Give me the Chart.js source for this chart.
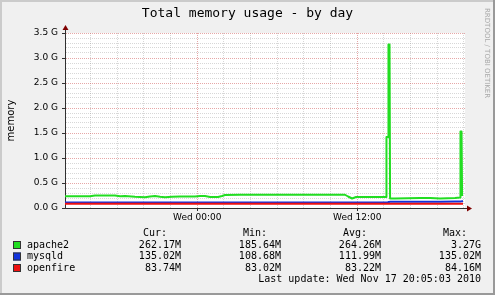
<!DOCTYPE html>
<html>
<head>
<meta charset="utf-8">
<title>Total memory usage - by day</title>
<script src="https://cdn.jsdelivr.net/npm/chart.js@4.4.1/dist/chart.umd.min.js"></script>
<style>
  html, body { margin: 0; padding: 0; background: #f0f0f0; }
  canvas { display: block; }
</style>
</head>
<body>
<canvas id="memChart" width="495" height="295"></canvas>
<script>
// hours since the start of the graph (Tue 14:05, 30h before last update)
const hours = [0, 1.88, 2.25, 3.75, 4.13, 4.5, 5.25, 6.0, 6.38, 6.75,
  7.13, 7.5, 8.03, 8.63, 9.75, 10.13, 10.5, 10.88, 11.48, 11.78,
  12.0, 13.13, 14.63, 17.63, 19.88, 21.0, 21.23, 21.53, 21.83, 22.88,
  24.08, 24.11, 24.23, 24.26, 24.34, 24.38, 24.75, 26.63, 27.38, 28.13,
  29.25, 29.63, 29.66, 29.74, 29.78, 29.85];

// memory in G
const apache2 = [0.235, 0.235, 0.25, 0.25, 0.235, 0.24, 0.225, 0.215, 0.23, 0.24,
  0.225, 0.215, 0.225, 0.23, 0.23, 0.24, 0.24, 0.22, 0.22, 0.24,
  0.26, 0.265, 0.265, 0.265, 0.265, 0.265, 0.23, 0.19, 0.22, 0.22,
  0.22, 1.42, 1.42, 3.27, 3.27, 0.19, 0.19, 0.2, 0.2, 0.19,
  0.2, 0.21, 1.53, 1.53, 0.26, 0.262];
const mysqld = [0.109, 0.109, 0.11, 0.11, 0.109, 0.109, 0.109, 0.109, 0.109, 0.11,
  0.11, 0.109, 0.109, 0.109, 0.109, 0.109, 0.11, 0.11, 0.109, 0.109,
  0.11, 0.11, 0.11, 0.109, 0.109, 0.109, 0.109, 0.109, 0.109, 0.109,
  0.109, 0.11, 0.112, 0.118, 0.122, 0.125, 0.125, 0.126, 0.126, 0.127,
  0.128, 0.13, 0.132, 0.133, 0.135, 0.135];
const openfire = [0.083, 0.083, 0.083, 0.083, 0.083, 0.083, 0.083, 0.083, 0.083, 0.083,
  0.083, 0.083, 0.083, 0.083, 0.083, 0.083, 0.083, 0.083, 0.083, 0.083,
  0.083, 0.083, 0.083, 0.083, 0.083, 0.083, 0.083, 0.083, 0.083, 0.083,
  0.083, 0.0835, 0.084, 0.084, 0.0838, 0.0835, 0.0835, 0.0835, 0.0835, 0.0835,
  0.0837, 0.0837, 0.0837, 0.0837, 0.0837, 0.0837];

const seriesNames = ['apache2', 'mysqld', 'openfire'];
const seriesColors = ['#22dd22', '#1133dd', '#ee1111'];
const statHeaders = ['Cur:', 'Min:', 'Avg:', 'Max:'];
const statValues = [
  ['262.17M', '185.64M', '264.26M', '3.27G'],
  ['135.02M', '108.68M', '111.99M', '135.02M'],
  ['83.74M', '83.02M', '83.22M', '84.16M']
];
const lastUpdate = 'Last update: Wed Nov 17 20:05:03 2010';

// vertical grid every 2h, lined up on midnight
const xTickHours = [1.917, 3.917, 5.917, 7.917, 9.917, 11.917, 13.917, 15.917,
  17.917, 19.917, 21.917, 23.917, 25.917, 27.917, 29.917];
const xTickLabels = ['', '', '', '', 'Wed 00:00', '', '', '',
  '', '', 'Wed 12:00', '', '', '', ''];
const yMax = 3.5;
const yMinorStep = 0.1;
const yMajorStep = 0.5;

const isMajorY = v => Math.abs(v / yMajorStep - Math.round(v / yMajorStep)) < 1e-6;

const minorGrid = 'rgba(140,140,140,0.35)';
const majorGrid = 'rgba(200,60,60,0.45)';
const axisColor = '#303030';
const arrowColor = '#7f0000';

const rrdDecor = {
  id: 'rrdDecor',
  beforeDraw(chart) {
    const ctx = chart.ctx;
    const a = chart.chartArea;
    ctx.save();
    ctx.fillStyle = '#f0f0f0';
    ctx.fillRect(0, 0, chart.width, chart.height);
    ctx.fillStyle = '#cbcbcb';
    ctx.fillRect(0, 0, chart.width, 2);
    ctx.fillRect(0, 0, 2, chart.height);
    ctx.fillStyle = '#999999';
    ctx.fillRect(0, chart.height - 2, chart.width, 2);
    ctx.fillRect(chart.width - 2, 0, 2, chart.height);
    ctx.fillStyle = '#ffffff';
    ctx.fillRect(a.left, a.top, a.right - a.left, a.bottom - a.top);
    ctx.restore();
  },
  afterDraw(chart) {
    const ctx = chart.ctx;
    const a = chart.chartArea;
    ctx.save();

    // axis arrows
    ctx.strokeStyle = axisColor;
    ctx.lineWidth = 1;
    ctx.beginPath();
    ctx.moveTo(a.left + 0.5, a.top);
    ctx.lineTo(a.left + 0.5, a.top - 4);
    ctx.moveTo(a.right, a.bottom + 0.5);
    ctx.lineTo(a.right + 3, a.bottom + 0.5);
    ctx.stroke();
    ctx.fillStyle = arrowColor;
    ctx.beginPath();
    ctx.moveTo(a.left - 2.5, a.top - 3);
    ctx.lineTo(a.left + 3.5, a.top - 3);
    ctx.lineTo(a.left + 0.5, a.top - 8);
    ctx.closePath();
    ctx.fill();
    ctx.beginPath();
    ctx.moveTo(a.right + 2, a.bottom - 2.5);
    ctx.lineTo(a.right + 2, a.bottom + 3.5);
    ctx.lineTo(a.right + 7, a.bottom + 0.5);
    ctx.closePath();
    ctx.fill();

    // watermark
    ctx.save();
    ctx.translate(487, 8);
    ctx.rotate(Math.PI / 2);
    ctx.font = '7px "DejaVu Sans"';
    ctx.fillStyle = '#a8a8a8';
    ctx.textAlign = 'left';
    ctx.textBaseline = 'middle';
    ctx.fillText('RRDTOOL / TOBI OETIKER', 0, 0);
    ctx.restore();

    // legend table
    ctx.font = '10px "DejaVu Sans Mono"';
    ctx.fillStyle = '#000';
    ctx.textBaseline = 'middle';
    ctx.textAlign = 'right';
    statHeaders.forEach((h, i) => ctx.fillText(h, 167 + i * 100, 233));
    const rowY = [245, 256.5, 268];
    seriesNames.forEach((name, r) => {
      const y = rowY[r];
      ctx.fillStyle = seriesColors[r];
      ctx.fillRect(13, y - 4, 8, 8);
      ctx.strokeStyle = '#333';
      ctx.lineWidth = 1;
      ctx.strokeRect(13.5, y - 3.5, 7, 7);
      ctx.fillStyle = '#000';
      ctx.textAlign = 'left';
      ctx.fillText(name, 27, y);
      ctx.textAlign = 'right';
      statValues[r].forEach((v, i) => ctx.fillText(v, 181 + i * 100, y));
    });
    ctx.fillText(lastUpdate, 481, 279.5);
    ctx.restore();
  }
};

const lineDs = (label, data, color, order) => ({
  label,
  data: hours.map((h, i) => ({ x: h, y: data[i] })),
  borderColor: color,
  backgroundColor: color,
  borderWidth: 2,
  pointRadius: 0,
  tension: 0,
  fill: false,
  borderJoinStyle: 'round',
  order
});

new Chart(document.getElementById('memChart'), {
  type: 'line',
  data: {
    datasets: [
      lineDs(seriesNames[0], apache2, seriesColors[0], 3),
      lineDs(seriesNames[1], mysqld, seriesColors[1], 2),
      lineDs(seriesNames[2], openfire, seriesColors[2], 1)
    ]
  },
  options: {
    responsive: false,
    animation: false,
    layout: { padding: 0 },
    plugins: {
      legend: { display: false },
      tooltip: { enabled: false },
      title: {
        display: true,
        text: 'Total memory usage - by day',
        color: '#000',
        font: { family: '"DejaVu Sans Mono"', size: 13, weight: 'normal', lineHeight: 1.2 },
        padding: { top: 6, bottom: 11.4 }
      }
    },
    scales: {
      x: {
        type: 'linear',
        min: 0,
        max: 30,
        afterBuildTicks(scale) {
          scale.ticks = xTickHours.map(v => ({ value: v }));
        },
        afterFit(scale) { scale.height = 87; },
        ticks: {
          autoSkip: false,
          maxRotation: 0,
          padding: 1,
          color: '#000',
          font: { family: '"DejaVu Sans"', size: 9 },
          callback: (v, i) => xTickLabels[i]
        },
        grid: {
          color: c => (xTickLabels[c.index] ? majorGrid : minorGrid),
          tickColor: c => (xTickLabels[c.index] ? axisColor : 'rgba(0,0,0,0)'),
          tickLength: 3,
          lineWidth: 1
        },
        border: { display: true, color: axisColor, width: 1, dash: [1, 1] }
      },
      y: {
        min: 0,
        max: yMax,
        afterBuildTicks(scale) {
          const t = [];
          for (let i = 0; i <= Math.round(yMax / yMinorStep); i++) t.push({ value: +(i * yMinorStep).toFixed(2) });
          scale.ticks = t;
        },
        afterFit(scale) { scale.width = 65; },
        ticks: {
          autoSkip: false,
          padding: 4,
          color: '#000',
          font: { family: '"DejaVu Sans"', size: 9 },
          callback: v => (isMajorY(v) ? v.toFixed(1) + ' G' : '')
        },
        grid: {
          color: c => (isMajorY(c.tick.value) ? majorGrid : minorGrid),
          tickColor: c => (isMajorY(c.tick.value) ? axisColor : 'rgba(0,0,0,0)'),
          tickLength: 3,
          lineWidth: 1
        },
        border: { display: true, color: axisColor, width: 1, dash: [1, 1] },
        title: {
          display: true,
          text: 'memory',
          color: '#000',
          font: { family: '"DejaVu Sans"', size: 10 },
          padding: { top: 5, bottom: 0 }
        }
      },
      // empty right-hand strip that holds the watermark
      side: {
        type: 'linear',
        axis: 'y',
        position: 'right',
        min: 0,
        max: yMax,
        afterFit(scale) { scale.width = 30; },
        ticks: { display: false },
        grid: { display: false },
        border: { display: false }
      }
    }
  },
  plugins: [rrdDecor]
});
</script>
</body>
</html>
